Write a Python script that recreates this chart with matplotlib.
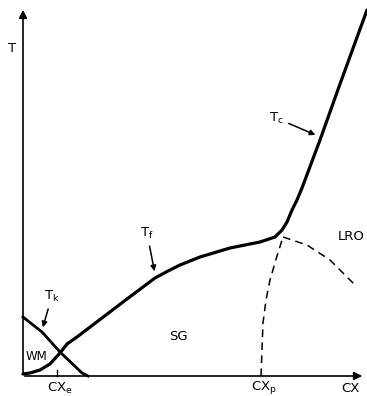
import numpy as np
import matplotlib.pyplot as plt

# phase diagram (arbitrary units, origin at axes corner)
tf_c = [0, 7, 17, 27, 37, 44, 54, 75, 104, 132, 145, 157, 177, 207, 237, 252, 259, 264, 269, 274, 279, 297, 317, 344]
tf_T = [2, 3, 6, 12, 23, 32, 39, 55, 77, 98, 105, 111, 119, 128, 134, 139, 146, 154, 166, 176, 188, 236, 292, 366]

tk_c = [0, 19, 37, 59, 65]
tk_T = [59, 44, 24, 3, 0]

dash_v_c = [238, 240, 243, 247, 254, 260]
dash_v_T = [0, 53, 76, 96, 120, 139]

dash_r_c = [260, 284, 307, 332]
dash_r_T = [139, 131, 116, 91]

cx_e = 34
cx_p = 238

if __name__ == '__main__':
    fig = plt.figure(figsize=(3.67, 3.96), dpi=100)
    ax = fig.add_axes([0, 0, 1, 1])
    ax.set_xlim(-23, 344)
    ax.set_ylim(-20, 376)
    ax.axis('off')

    # axes with arrows
    ax.annotate('', xy=(342, 0), xytext=(-1, 0),
                arrowprops=dict(arrowstyle='-|>', lw=1.2, color='black', mutation_scale=12))
    ax.annotate('', xy=(0, 369), xytext=(0, -1),
                arrowprops=dict(arrowstyle='-|>', lw=1.2, color='black', mutation_scale=12))
    ax.plot([cx_e, cx_e], [0, 6], color='black', lw=1.0)

    ax.plot(tf_c, tf_T, color='black', lw=2.3, solid_joinstyle='round', solid_capstyle='round')
    ax.plot(tk_c, tk_T, color='black', lw=2.0, solid_joinstyle='round')
    ax.plot(dash_v_c, dash_v_T, color='black', lw=1.1, linestyle=(0, (5, 3.5)))
    ax.plot(dash_r_c, dash_r_T, color='black', lw=1.1, linestyle=(0, (5, 3.5)))

    fs = 9.5
    ax.text(-11, 328, 'T', fontsize=fs, ha='center', va='center')
    ax.text(cx_e + 3, -12, r'CX$_\mathregular{e}$', fontsize=fs, ha='center', va='center')
    ax.text(cx_p + 3, -12, r'CX$_\mathregular{p}$', fontsize=fs, ha='center', va='center')
    ax.text(327, -13, 'CX', fontsize=fs, ha='center', va='center')
    ax.text(155, 39, 'SG', fontsize=fs, ha='center', va='center')
    ax.text(13, 19, 'WM', fontsize=8.5, ha='center', va='center')
    ax.text(315, 139, 'LRO', fontsize=fs, ha='left', va='center')

    arrow = dict(arrowstyle='-|>', lw=1.1, color='black', mutation_scale=8)
    ax.annotate(r'T$_\mathregular{k}$', xy=(19, 46), xytext=(29, 80), fontsize=fs,
                ha='center', va='center', arrowprops=arrow)
    ax.annotate(r'T$_\mathregular{f}$', xy=(132, 102), xytext=(124, 143), fontsize=fs,
                ha='center', va='center', arrowprops=arrow)
    ax.annotate(r'T$_\mathregular{c}$', xy=(295, 240), xytext=(253, 258), fontsize=fs,
                ha='center', va='center', arrowprops=arrow)

    plt.savefig('out.png', dpi=100)
